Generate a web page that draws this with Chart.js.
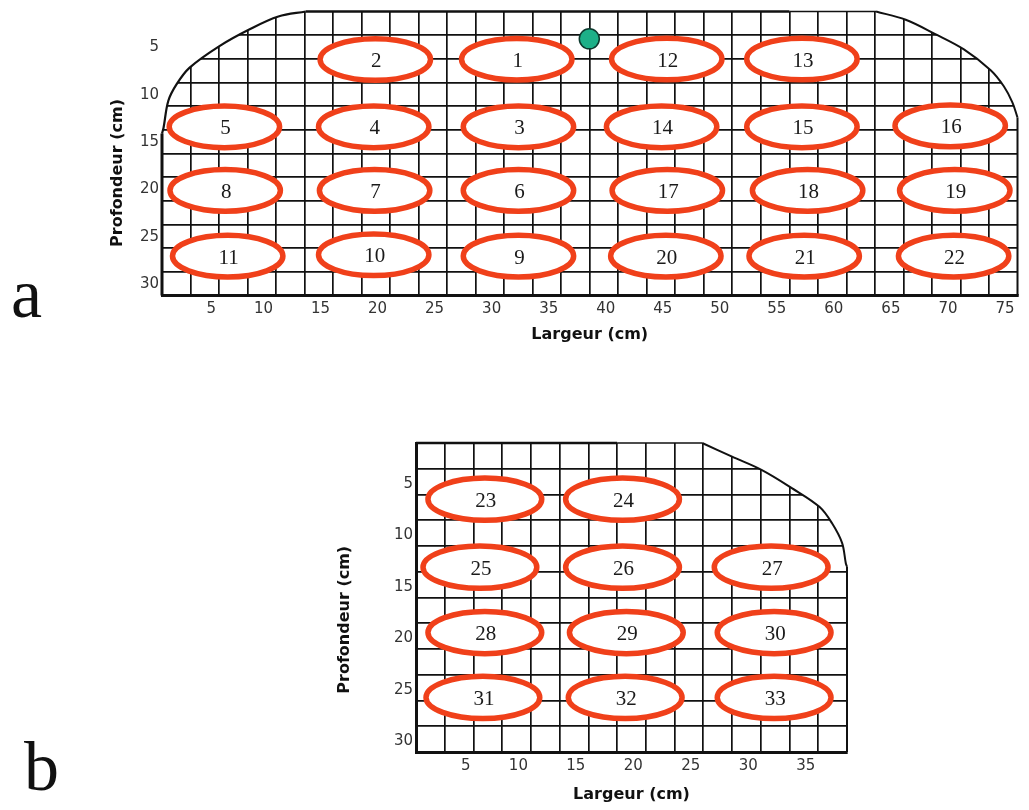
<!DOCTYPE html>
<html lang="fr">
<head>
<meta charset="utf-8">
<title>Positions de mesure</title>
<script src="https://cdn.jsdelivr.net/npm/chart.js@4/dist/chart.umd.min.js"></script>
<style>
  html, body { margin: 0; padding: 0; background: #fff; width: 1029px; height: 810px; overflow: hidden; }
  .panneau { position: absolute; }
  #panneauA { left: 0; top: 0; width: 1029px; height: 350px; }
  #panneauB { left: 300px; top: 400px; width: 600px; height: 410px; }
  .lettre { position: absolute; font-family: 'Liberation Serif', serif; font-size: 70px; line-height: 1; color: #111; }
</style>
</head>
<body>
<div class="lettre" style="left:11px; top:259px;">a</div>
<div class="lettre" style="left:24px; top:732px;">b</div>
<div class="panneau" id="panneauA"><canvas id="graphA" width="1029" height="350"></canvas></div>
<div class="panneau" id="panneauB"><canvas id="graphB" width="600" height="410"></canvas></div>

<script>
// ---- Panneau a : surface 75 cm x 30 cm ----
const zonesA_num = ['1','2','3','4','5','6','7','8','9','10','11','12','13','14','15','16','17','18','19','20','21','22'];
const zonesA_x   = [31.1, 18.7, 31.25, 18.56, 5.47, 31.25, 18.64, 5.54, 31.25, 18.56, 5.76, 44.25, 56.1, 43.8, 56.1, 69.1, 44.3, 56.6, 69.5, 44.17, 56.3, 69.4];
const zonesA_y   = [5.04, 5.07, 12.18, 12.18, 12.18, 18.9, 18.9, 18.9, 25.84, 25.7, 25.84, 5.02, 5.02, 12.18, 12.18, 12.08, 18.9, 18.9, 18.9, 25.84, 25.84, 25.84];
const capteurA_x = [37.46];
const capteurA_y = [2.89];
const etiquettesA_x = [5, 10, 15, 20, 25, 30, 35, 40, 45, 50, 55, 60, 65, 70, 75];
const etiquettesA_y = [5, 10, 15, 20, 25, 30];
// contour de la surface (cm)
const contourA_gauche_x = [0, 0.14, 0.55, 1.27, 2.4, 5.0, 7.6, 10.2, 12.6];
const contourA_gauche_y = [12.9, 12.25, 9.45, 7.7, 5.95, 3.68, 1.93, 0.53, 0];
const contourA_droite_x = [62.6, 65.2, 67.75, 70.3, 72.65, 73.8, 74.55, 75];
const contourA_droite_y = [0, 0.87, 2.36, 4.0, 6.2, 7.9, 9.6, 11.2];

// ---- Panneau b : surface 37,5 cm x 30 cm ----
const zonesB_num = ['23','24','25','26','27','28','29','30','31','32','33'];
const zonesB_x   = [5.99, 17.97, 5.56, 17.97, 30.9, 5.99, 18.3, 31.16, 5.82, 18.2, 31.16];
const zonesB_y   = [5.45, 5.45, 12.06, 12.06, 12.06, 18.4, 18.4, 18.4, 24.7, 24.7, 24.7];
const etiquettesB_x = [5, 10, 15, 20, 25, 30, 35];
const etiquettesB_y = [5, 10, 15, 20, 25, 30];
const contourB_droite_x = [24.9, 27.5, 30.1, 32.7, 35.1, 36.2, 37.07, 37.4, 37.5];
const contourB_droite_y = [0, 1.33, 2.63, 4.38, 6.2, 7.8, 9.7, 11.7, 12.0];

// ---- styles ----
const NOIR = '#111';
const ROUGE = '#f0401a';
const TRANSPARENT = 'rgba(0,0,0,0)';
Chart.defaults.font.family = "'DejaVu Sans', sans-serif";

const points = (xs, ys) => xs.map((x, i) => ({ x, y: ys[i] }));
const zones = (nums, xs, ys) => nums.map((n, i) => ({ x: xs[i], y: ys[i], num: n }));

// blanchit le quadrillage hors de la surface, le long des bords arrondis
const pluginMasque = {
  id: 'masque',
  beforeDatasetsDraw(chart) {
    const { ctx, chartArea: a } = chart;
    chart.data.datasets.forEach((ds, i) => {
      if (!ds.masque) return;
      const ligne = chart.getDatasetMeta(i).dataset;
      if (!ligne || !ligne.points || !ligne.points.length) return;
      const pts = ligne.points;
      const debut = pts[0], fin = pts[pts.length - 1];
      const haut = a.top - 4;
      ctx.save();
      ctx.beginPath();
      ligne.path(ctx);
      if (ds.masque === 'gauche') {
        ctx.lineTo(fin.x, haut);
        ctx.lineTo(debut.x - 4, haut);
        ctx.lineTo(debut.x - 4, debut.y);
      } else {
        ctx.lineTo(fin.x + 4, fin.y);
        ctx.lineTo(fin.x + 4, haut);
        ctx.lineTo(debut.x, haut);
      }
      ctx.closePath();
      ctx.fillStyle = '#fff';
      ctx.fill();
      ctx.restore();
    });
  }
};

// ellipses numérotées, dessinées depuis les centres du jeu de données
const pluginZones = {
  id: 'zones',
  afterDatasetsDraw(chart) {
    const { ctx, scales: { x, y } } = chart;
    chart.data.datasets.forEach((ds, i) => {
      if (!ds.ellipse) return;
      const meta = chart.getDatasetMeta(i);
      meta.data.forEach((el, j) => {
        const d = ds.data[j];
        const rx = Math.abs(x.getPixelForValue(d.x + ds.ellipse.rx) - el.x);
        const ry = Math.abs(y.getPixelForValue(d.y + ds.ellipse.ry) - el.y);
        ctx.save();
        ctx.beginPath();
        ctx.ellipse(el.x, el.y, rx, ry, 0, 0, Math.PI * 2);
        ctx.fillStyle = '#fff';
        ctx.fill();
        ctx.lineWidth = ds.ellipse.trait;
        ctx.strokeStyle = ROUGE;
        ctx.stroke();
        ctx.font = "21px 'Liberation Serif', serif";
        ctx.fillStyle = '#1a1a1a';
        ctx.textAlign = 'center';
        ctx.textBaseline = 'middle';
        ctx.fillText(d.num, el.x + 1, el.y + 2);
        ctx.restore();
      });
    });
  }
};

function contour(data, largeur, masque) {
  return {
    data, showLine: true, pointRadius: 0, borderColor: NOIR, borderWidth: largeur,
    tension: masque ? 0.35 : 0, fill: false, clip: false, masque: masque || null
  };
}

function axeX(max, etiquettes, hauteur) {
  return {
    type: 'linear', min: 0, max,
    ticks: {
      stepSize: 2.5, autoSkip: false, maxRotation: 0, align: 'end', padding: 5, labelOffset: -3,
      color: '#333', font: { size: 15 },
      callback: v => etiquettes.includes(v) ? String(v) : ''
    },
    grid: {
      drawTicks: false, lineWidth: 1.7,
      color: c => (c.tick && (c.tick.value === 0 || c.tick.value === max)) ? TRANSPARENT : NOIR
    },
    border: { display: true, color: NOIR, width: 3 },
    title: { display: true, text: 'Largeur (cm)', color: NOIR, font: { size: 16, weight: 'bold' }, padding: 0 },
    afterFit: s => { s.height = hauteur; s.paddingLeft = 0; s.paddingRight = 0; }
  };
}

function axeY(etiquettes, bordure, largeur, decalage, titre) {
  return {
    type: 'linear', min: 0, max: 30, reverse: true,
    ticks: {
      stepSize: 2.5, autoSkip: false, align: 'end', padding: 3, labelOffset: decalage,
      color: '#333', font: { size: 15 },
      callback: v => etiquettes.includes(v) ? String(v) : ''
    },
    grid: {
      drawTicks: false, lineWidth: 1.7,
      color: c => (c.tick && (c.tick.value === 0 || c.tick.value === 30)) ? TRANSPARENT : NOIR
    },
    border: { display: bordure, color: NOIR, width: 3 },
    title: { display: true, text: titre, color: NOIR, font: { size: 16, weight: 'bold' }, padding: 0 },
    afterFit: s => { s.width = largeur; s.paddingTop = 0; s.paddingBottom = 0; }
  };
}

const optionsCommunes = {
  responsive: false, animation: false, devicePixelRatio: 1,
  plugins: { legend: { display: false }, tooltip: { enabled: false } }
};

// ---- graphique a ----
new Chart(document.getElementById('graphA'), {
  type: 'scatter',
  data: {
    datasets: [
      { data: zones(zonesA_num, zonesA_x, zonesA_y), pointRadius: 0, ellipse: { rx: 4.84, ry: 2.2, trait: 5.5 } },
      { data: points(capteurA_x, capteurA_y), pointRadius: 10, pointBackgroundColor: '#1db088',
        pointBorderColor: '#0d3a2e', pointBorderWidth: 1.5 },
      contour(points(contourA_gauche_x, contourA_gauche_y), 2.2, 'gauche'),
      contour(points(contourA_droite_x, contourA_droite_y), 2, 'droite'),
      contour([{ x: 12.6, y: 0 }, { x: 55, y: 0 }], 2.6),
      contour([{ x: 55, y: 0 }, { x: 62.6, y: 0 }], 1.7),
      contour([{ x: 0, y: 12.9 }, { x: 0, y: 30 }], 3),
      contour([{ x: 75, y: 11.2 }, { x: 75, y: 30 }], 2)
    ]
  },
  options: Object.assign({}, optionsCommunes, {
    layout: { padding: { left: 108, top: 10, right: 4, bottom: 5.5 } },
    scales: {
      x: axeX(75, etiquettesA_x, 49),
      y: axeY(etiquettesA_y, false, 54, -4, 'Profondeur (cm)       ')
    }
  }),
  plugins: [pluginMasque, pluginZones]
});

// ---- graphique b ----
new Chart(document.getElementById('graphB'), {
  type: 'scatter',
  data: {
    datasets: [
      { data: zones(zonesB_num, zonesB_x, zonesB_y), pointRadius: 0, ellipse: { rx: 4.95, ry: 2.05, trait: 5.5 } },
      contour(points(contourB_droite_x, contourB_droite_y), 2, 'droite'),
      contour([{ x: 0, y: 0 }, { x: 17.5, y: 0 }], 2.6),
      contour([{ x: 17.5, y: 0 }, { x: 24.9, y: 0 }], 1.7),
      contour([{ x: 37.5, y: 12.0 }, { x: 37.5, y: 30 }], 2)
    ]
  },
  options: Object.assign({}, optionsCommunes, {
    layout: { padding: { left: 35, top: 43, right: 53, bottom: 5.4 } },
    scales: {
      x: axeX(37.5, etiquettesB_x, 52.6),
      y: axeY(etiquettesB_y, true, 81, -3, 'Profondeur (cm)        ')
    }
  }),
  plugins: [pluginMasque, pluginZones]
});
</script>
</body>
</html>
